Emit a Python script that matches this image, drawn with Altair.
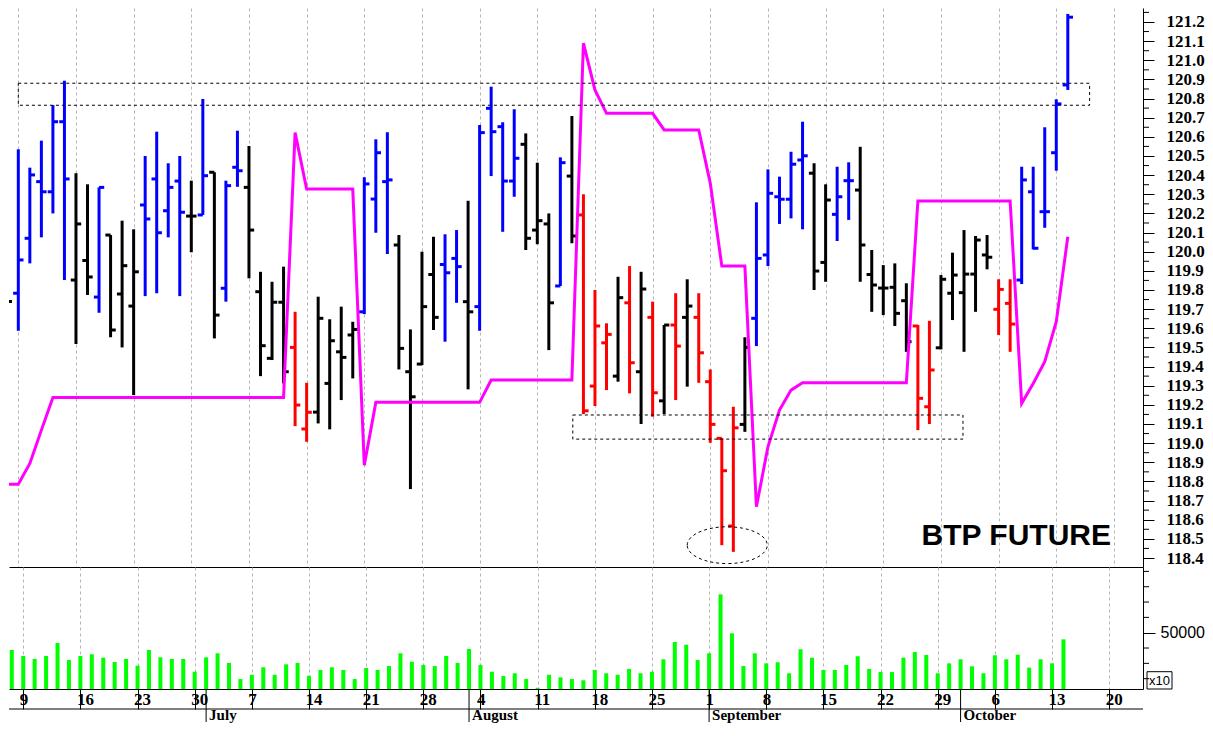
import altair as alt
import pandas as pd

# ---------------- data (trading-day index: 0 = Monday 9 June 2014) ----------------
BAR_INDEX = list(range(-1, 92))
BAR_COLOR = list("K" "BBBBB" "KK" "B" "KKK" "BBBB" "K" "B" "K" "BB" "KKKK" "RR" "KKKK"
                 "BBB" "KKKK" "BB" "K" "BBBB" "KKK" "B" "K" "RRR" "K" "R" "K" "R" "K"
                 "R" "K" "RRRR" "K" "BBBBB" "KK" "BB" "KKKKK" "RR" "KKKKK" "RR" "BBBBB")

HIGH = [120.18,
        120.535, 120.439, 120.58, 120.766, 120.893,
        120.41, 120.352, 120.336, 120.087, 120.162,
        120.117, 120.50, 120.627, 120.462, 120.50,
        120.371, 120.798, 120.415, 120.371, 120.632,
        120.552, 119.895, 119.843, 119.922, 119.686,
        119.315, 119.765, 119.647, 119.713, 119.634,
        120.389, 120.587, 120.624, 120.087, 119.594,
        120.0, 120.078, 120.091, 120.113, 120.266,
        120.662, 120.862, 120.676, 120.744, 120.618,
        120.465, 120.20, 120.493, 120.709, 120.30,
        119.80, 119.626, 119.869, 119.925, 119.895,
        119.739, 119.617, 119.783, 119.856, 119.783,
        119.385, 119.025, 119.19, 119.553, 120.258,
        120.43, 120.392, 120.522, 120.679, 120.462,
        120.352, 120.444, 120.467, 120.548, 120.009,
        119.93, 119.939, 119.835, 119.617, 119.639,
        119.878, 119.995, 120.113, 120.082, 120.087,
        119.856, 119.856, 120.444, 120.444, 120.65,
        120.796, 121.242]
LOW = [119.52,
       119.587, 119.939, 120.075, 120.20, 119.852,
       119.518, 119.774, 119.681, 119.553, 119.50,
       119.251, 119.768, 119.783, 120.075, 119.768,
       119.997, 120.192, 119.547, 119.739, 120.339,
       119.861, 119.35, 119.434, 119.312, 119.089,
       119.007, 119.103, 119.072, 119.225, 119.338,
       119.674, 120.099, 119.988, 119.385, 118.76,
       119.408, 119.591, 119.53, 119.733, 119.281,
       119.587, 120.395, 120.104, 120.287, 120.009,
       120.039, 119.486, 119.821, 120.044, 119.152,
       119.194, 119.277, 119.321, 119.26, 119.10,
       119.138, 119.152, 119.225, 119.295, 119.315,
       119.002, 118.467, 118.432, 119.059, 119.507,
       119.925, 120.145, 120.174, 120.117, 119.80,
       119.843, 120.056, 120.166, 119.843, 119.686,
       119.669, 119.612, 119.477, 119.068, 119.10,
       119.49, 119.643, 119.477, 119.686, 119.908,
       119.565, 119.477, 119.831, 120.012, 120.125,
       120.423, 120.845]
OPEN = [119.52,
        119.783, 120.07, 120.366, 120.313, 120.679,
        119.852, 119.954, 119.763, 120.087, 119.779,
        119.716, 120.244, 120.38, 120.214, 120.369,
        120.186, 120.192, 120.415, 119.809, 120.441,
        120.336, 119.791, 119.443, 119.736, 119.50,
        119.074, 119.162, 119.312, 119.477, 119.565,
        119.686, 120.275, 120.366, 120.035, 119.373,
        119.413, 119.881, 119.933, 119.965, 119.739,
        119.713, 120.749, 120.653, 120.369, 120.561,
        120.113, 120.145, 119.821, 120.395, 120.192,
        119.298, 119.524, 119.35, 119.733, 119.373,
        119.657, 119.221, 119.617, 119.657, 119.657,
        119.321, 119.025, 118.567, 119.098, 119.652,
        119.983, 120.287, 120.274, 120.479, 120.41,
        119.944, 120.195, 120.371, 120.322, 119.881,
        119.81, 119.814, 119.744, 119.612, 119.19,
        119.498, 119.783, 119.786, 119.883, 119.983,
        119.699, 119.73, 119.852, 120.313, 120.209,
        120.517, 120.871]
CLOSE = [119.74,
         119.957, 120.401, 120.313, 120.679, 120.38,
         120.145, 119.868, 120.336, 119.591, 119.927,
         119.895, 120.171, 120.099, 120.336, 120.206,
         120.186, 120.397, 119.669, 120.345, 120.423,
         120.113, 119.509, 119.736, 119.373, 119.199,
         119.161, 119.652, 119.535, 119.448, 119.594,
         120.354, 120.517, 120.375, 119.495, 119.242,
         119.713, 119.657, 119.89, 119.922, 119.686,
         120.622, 120.627, 120.369, 120.488, 120.07,
         120.162, 119.733, 120.465, 120.082, 119.169,
         119.612, 119.568, 119.76, 119.42, 119.805,
         119.263, 119.617, 119.507, 119.716, 119.472,
         119.098, 118.856, 119.08, 119.50, 119.965,
         120.305, 120.274, 120.457, 120.501, 119.899,
         120.27, 120.287, 120.371, 120.035, 119.826,
         119.81, 119.678, 119.53, 119.234, 119.382,
         119.856, 119.878, 119.883, 120.061, 119.971,
         119.803, 119.622, 120.375, 120.018, 120.209,
         120.772, 121.225]
STOP = [118.785,
        118.785, 118.894, 119.068, 119.239, 119.239,
        119.239, 119.239, 119.239, 119.239, 119.239,
        119.239, 119.239, 119.239, 119.239, 119.239,
        119.239, 119.239, 119.239, 119.239, 119.239,
        119.239, 119.239, 119.239, 119.239, 120.622,
        120.327, 120.327, 120.327, 120.327, 120.327,
        118.885, 119.213, 119.213, 119.213, 119.213,
        119.213, 119.213, 119.213, 119.213, 119.213,
        119.213, 119.33, 119.33, 119.33, 119.33,
        119.33, 119.33, 119.33, 119.33, 121.089,
        120.845, 120.723, 120.723, 120.723, 120.723,
        120.723, 120.636, 120.636, 120.636, 120.636,
        120.357, 119.925, 119.925, 119.925, 118.668,
        118.981, 119.173, 119.277, 119.315, 119.315,
        119.315, 119.315, 119.315, 119.315, 119.315,
        119.315, 119.315, 119.315, 120.265, 120.265,
        120.265, 120.265, 120.265, 120.265, 120.265,
        120.265, 120.265, 119.208, 119.312, 119.425,
        119.634, 120.078]
VOLUME = [35900,
          31000, 28600, 31000, 41600, 27700,
          31000, 32400, 29600, 26100, 28600,
          23100, 35900, 29900, 28600, 28600,
          18200, 29900, 33200, 25300, 12200,
          15700, 21800, 15700, 24200, 25300,
          14900, 19600, 21800, 19600, 12200,
          21200, 19600, 22800, 33200, 26300,
          23700, 22800, 31000, 25300, 36700,
          23700, 18200, 14700, 16900, 12200,
          5100, 15700, 13600, 12200, 11200,
          19600, 16900, 15700, 20400, 16900,
          18200, 28300, 42400, 40200, 27700,
          33200, 81300, 49500, 22800, 33200,
          25000, 25900, 16900, 36500, 29600,
          19600, 19600, 23700, 30800, 20400,
          17900, 17900, 29600, 34300, 31800,
          16900, 25000, 28300, 22600, 16900,
          31600, 28300, 32100, 21500, 28300,
          25000, 44600]

MONDAY_INDEX = [0, 5, 10, 15, 20, 25, 30, 35, 40, 45, 50, 55, 60, 65, 70, 75, 80, 85, 90, 95]
DAY_LABELS = ["9", "16", "23", "30", "7", "14", "21", "28", "4", "11", "18", "25",
              "1", "8", "15", "22", "29", "6", "13", "20"]
MONTH_NAMES = ["July", "August", "September", "October"]
MONTH_START_INDEX = [16, 39, 60, 82]

BOX_X1 = [0.0, 48.08]
BOX_X2 = [92.89, 81.91]
BOX_Y1 = [120.765, 119.021]
BOX_Y2 = [120.880, 119.147]
ELLIPSE_X = [61.47]
ELLIPSE_Y = [118.467]
LABEL_TEXT = ["BTP FUTURE"]
LABEL_X = [86.53]
LABEL_Y = [118.467]

PRICE_MAJOR = [round(118.40 + 0.1 * k, 1) for k in range(29)]
PRICE_MINOR = [round(118.45 + 0.1 * k, 2) for k in range(29)]
VOLUME_MAJOR = [50000]
VOLUME_MINOR = [12500, 25000, 37500, 62500, 75000, 87500, 100000]

X_MIN, X_MAX = -0.807, 97.52
P_MIN, P_MAX = 118.353, 121.273
V_MIN, V_MAX = 4078, 103594

W = 1134
H_P = 559
H_V = 122

# ---------------- frames ----------------
df = pd.DataFrame({"i": BAR_INDEX, "c": BAR_COLOR, "high": HIGH, "low": LOW,
                   "open": OPEN, "close": CLOSE, "stop": STOP, "vol": VOLUME})
box_df = pd.DataFrame({"x1": BOX_X1, "x2": BOX_X2, "y1": BOX_Y1, "y2": BOX_Y2})
ell_df = pd.DataFrame({"x": ELLIPSE_X, "y": ELLIPSE_Y})
lab_df = pd.DataFrame({"x": LABEL_X, "y": LABEL_Y, "t": LABEL_TEXT})
mon_df = pd.DataFrame({"mi": MONTH_START_INDEX, "mn": MONTH_NAMES})
pminor_df = pd.DataFrame({"t": PRICE_MINOR})
vminor_df = pd.DataFrame({"t": VOLUME_MINOR})
one = alt.Data(values=[{"k": 1}])

SERIF = "Liberation Serif"
SANS = "Liberation Sans"
GRID = "#b4b4b4"

xs = alt.Scale(domain=[X_MIN, X_MAX], nice=False, zero=False)
ys = alt.Scale(domain=[P_MIN, P_MAX], nice=False, zero=False)
vs = alt.Scale(domain=[V_MIN, V_MAX], nice=False, zero=False)

price_axis = alt.Axis(orient="right", values=PRICE_MAJOR, title=None, format=".1f",
                      tickSize=11, tickColor="black", tickWidth=1,
                      domainColor="black", domainWidth=1,
                      labelFont=SERIF, labelFontWeight="bold", labelFontSize=17,
                      labelColor="black", labelPadding=12, labelOverlap=False,
                      labelFlush=False, grid=False)
x_top_axis = alt.Axis(values=MONDAY_INDEX, labels=False, ticks=False, title=None,
                      domainColor="black", domainWidth=1, grid=True, gridColor=GRID,
                      gridDash=[3, 3], gridWidth=1)

day_expr = "[" + ",".join(f"'{d}'" for d in DAY_LABELS) + "][round(datum.value/5)]"
x_bot_axis = alt.Axis(values=MONDAY_INDEX, labelExpr=day_expr, title=None,
                      tickSize=20, tickColor="black", tickWidth=1,
                      domainColor="black", domainWidth=1,
                      labelAlign="left", labelOffset=-4, labelBaseline="top",
                      labelPadding=-18, labelFont=SERIF, labelFontWeight="bold",
                      labelFontSize=17, labelColor="black", labelOverlap=False,
                      labelFlush=False, grid=True, gridColor=GRID, gridDash=[3, 3],
                      gridWidth=1)
vol_axis = alt.Axis(orient="right", values=VOLUME_MAJOR, title=None, format="d",
                    tickSize=12, tickColor="black", tickWidth=1,
                    domainColor="black", domainWidth=1,
                    labelFont=SANS, labelFontSize=16, labelColor="black",
                    labelPadding=5, labelOverlap=False, labelFlush=False, grid=False)


def X(field):
    return alt.X(field, type="quantitative", scale=xs, axis=x_top_axis)


def Y(field):
    return alt.Y(field, type="quantitative", scale=ys, axis=price_axis)


col = alt.Color("c:N", scale=alt.Scale(domain=["B", "K", "R"],
                                       range=["#0000ff", "#000000", "#ff0000"]), legend=None)

base = alt.Chart(df)
hl = base.mark_rule(strokeWidth=3, clip=True).encode(x=X("i"), y=Y("low"), y2="high", color=col)
op = base.transform_calculate(xo="datum.i - 0.45").mark_rule(strokeWidth=3, clip=True).encode(
    x=X("xo"), x2="i", y=Y("open"), color=col)
cl = base.transform_calculate(xc="datum.i + 0.45").mark_rule(strokeWidth=3, clip=True).encode(
    x=X("i"), x2="xc", y=Y("close"), color=col)
stop = base.mark_line(color="#ff00ff", strokeWidth=3, clip=True).encode(x=X("i"), y=Y("stop"))
boxes = alt.Chart(box_df).mark_rect(filled=False, color="black", strokeWidth=1,
                                    strokeDash=[3, 3]).encode(
    x=X("x1"), x2="x2", y=Y("y1"), y2="y2")
ELLIPSE_PATH = "M -1 0 A 1 0.46 0 1 1 1 0 A 1 0.46 0 1 1 -1 0 Z"
ell = alt.Chart(ell_df).mark_point(shape=ELLIPSE_PATH, size=6400, filled=False,
                                   color="black", strokeWidth=1, strokeDash=[3, 3],
                                   opacity=1).encode(x=X("x"), y=Y("y"))
lab = alt.Chart(lab_df).mark_text(font=SANS, fontWeight="bold", fontSize=30,
                                  align="center", baseline="alphabetic",
                                  color="black").encode(x=X("x"), y=Y("y"), text="t:N")
pminor = alt.Chart(pminor_df).mark_rule(color="black", strokeWidth=1).encode(
    x=alt.value(W), x2=alt.value(W + 6), y=Y("t"))

top = alt.layer(hl, op, cl, stop, boxes, ell, lab, pminor).properties(width=W, height=H_P)

XB = alt.X("i", type="quantitative", scale=xs, axis=x_bot_axis)


def VY(field):
    return alt.Y(field, type="quantitative", scale=vs, axis=vol_axis)


vbar = base.mark_bar(color="#00ff00", size=4).encode(x=XB, y=VY("vol"), y2=alt.datum(V_MIN))
vminor = alt.Chart(vminor_df).mark_rule(color="black", strokeWidth=1).encode(
    x=alt.value(W), x2=alt.value(W + 6), y=VY("t"))
msep = alt.Chart(mon_df).mark_rule(color="black", strokeWidth=1).encode(
    x=alt.X("mi:Q", scale=xs, axis=x_bot_axis), y=alt.value(H_V), y2=alt.value(H_V + 33))
mtxt = alt.Chart(mon_df).mark_text(align="left", baseline="middle", dx=3, font=SERIF,
                                   fontWeight="bold", fontSize=15, color="black").encode(
    x=alt.X("mi:Q", scale=xs, axis=x_bot_axis), y=alt.value(H_V + 26), text="mn:N")
rowline = alt.Chart(one).mark_rule(color="black", strokeWidth=1).encode(
    x=alt.value(0), x2=alt.value(W), y=alt.value(H_V + 20))
x10box = alt.Chart(one).mark_rect(filled=False, color="black", strokeWidth=1).encode(
    x=alt.value(W + 4), x2=alt.value(W + 29), y=alt.value(104.7), y2=alt.value(H_V))
x10txt = alt.Chart(one).mark_text(align="left", baseline="middle", font=SANS,
                                  fontSize=13, color="black").encode(
    x=alt.value(W + 6), y=alt.value(114), text=alt.value("x10"))

bottom = alt.layer(vbar, vminor, msep, mtxt, rowline, x10box, x10txt).properties(width=W, height=H_V)

chart = alt.vconcat(top, bottom, spacing=0, bounds="flush", padding=0,
                    background="white").configure_view(stroke=None)

chart.save("out.html", embed_options={"renderer": "svg", "actions": False})
